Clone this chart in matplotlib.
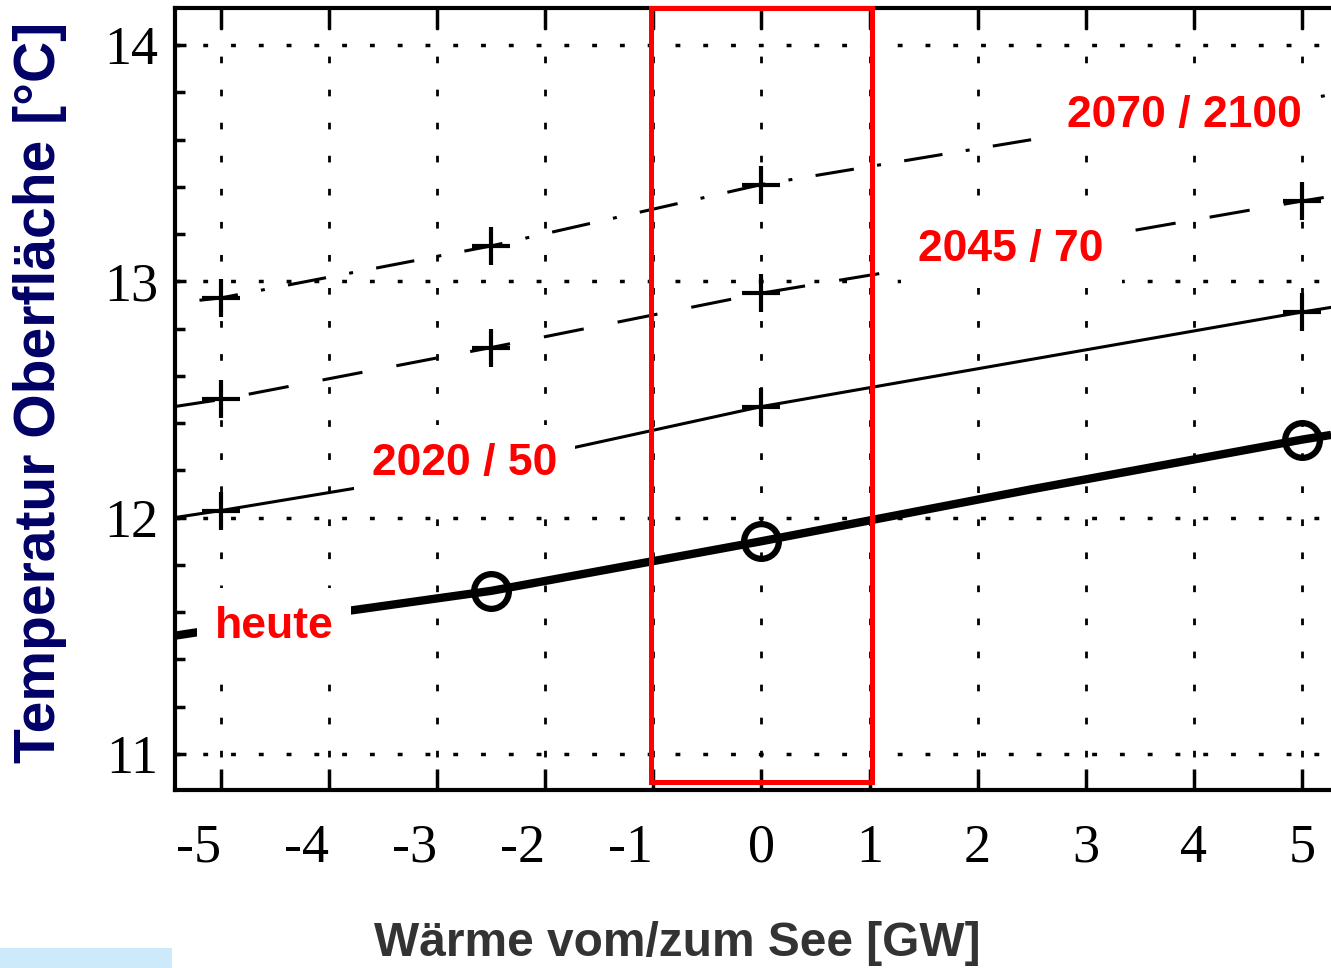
import matplotlib
matplotlib.use('Agg')
import matplotlib.pyplot as plt
from matplotlib.patches import Rectangle
from matplotlib.ticker import MultipleLocator

# values
x_pts = [-5.43, -5.0, -2.5, 0.0, 2.5, 5.0, 5.27]
t_heute = [11.50, 11.53, 11.69, 11.90, 12.12, 12.33, 12.35]
t_2020 = [12.00, 12.03, 12.22, 12.47, 12.67, 12.87, 12.89]
t_2045 = [12.47, 12.50, 12.72, 12.95, 13.14, 13.34, 13.36]
x_2070 = [-5.2, -5.0, -2.5, 0.0, 2.5, 5.0, 5.27]
t_2070 = [12.92, 12.93, 13.15, 13.41, 13.60, 13.77, 13.79]

mark_x = [-5.0, -2.5, 0.0, 5.0]
circle_x = [-2.5, 0.0, 5.0]

xticks = [-5, -4, -3, -2, -1, 0, 1, 2, 3, 4, 5]
yticks = [11, 12, 13, 14]

labels = ['heute', '2020 / 50', '2045 / 70', '2070 / 2100']
label_pos = [(-4.51, 11.54), (-2.75, 12.23), (2.31, 13.135), (3.91, 13.70)]

fig = plt.figure(figsize=(13.31, 9.68), dpi=100)
ax = fig.add_axes([0.1315, 0.1839, 0.8685, 0.8078])
ax.set_xlim(-5.426, 5.269)
ax.set_ylim(10.847, 14.157)

# grid
for xv in xticks:
    ax.axvline(xv, color='black', lw=2, dashes=(2.4, 9.5), zorder=1)
for yv in yticks:
    ax.axhline(yv, color='black', lw=2.5, dashes=(1.4, 6.6), zorder=1)


def lookup(xs, ys, x):
    # value at one of the read-off positions
    return ys[xs.index(x)]


# heute - thick line with circles
ax.plot(x_pts, t_heute, color='black', lw=6, zorder=3, solid_capstyle='butt')
ax.plot(circle_x, [lookup(x_pts, t_heute, v) for v in circle_x], 'o', ms=25,
        mfc='none', mec='black', mew=4.5, zorder=4)

# 2020 / 50 - thin solid
ax.plot(x_pts, t_2020, color='black', lw=2.2, zorder=3)
ax.plot(mark_x, [lookup(x_pts, t_2020, v) for v in mark_x], '+', ms=28,
        mec='black', mew=3, zorder=4)

# 2045 / 70 - dashed
ax.plot(x_pts, t_2045, color='black', lw=2.2, dashes=(13.3, 11.3), zorder=3)
ax.plot(mark_x, [lookup(x_pts, t_2045, v) for v in mark_x], '+', ms=28,
        mec='black', mew=3, zorder=4)

# 2070 / 2100 - dash dot
ax.plot(x_2070, t_2070, color='black', lw=2.2, dashes=(12.7, 7.7, 1.3, 7.7), zorder=3)
ax.plot(mark_x[:3], [lookup(x_2070, t_2070, v) for v in mark_x[:3]], '+', ms=28,
        mec='black', mew=3, zorder=4)

# red frame around -1..1 GW
ax.add_patch(Rectangle((-1.02, 10.88), 2.04, 14.157 - 10.88, fill=False,
                       edgecolor='#ff0000', lw=3.6, zorder=5, clip_on=False))

for txt, (lx, ly) in zip(labels, label_pos):
    ax.text(lx, ly, txt, color='#ff0000', fontsize=32, fontweight='bold',
            family='Liberation Sans', ha='center', va='center', zorder=6,
            bbox=dict(boxstyle='square,pad=0.4', fc='white', ec='none'))

# axes styling
for side in ['left', 'bottom', 'top']:
    ax.spines[side].set_linewidth(3)
ax.spines['right'].set_visible(False)

ax.set_xticks(xticks)
ax.set_yticks(yticks)
ax.yaxis.set_minor_locator(MultipleLocator(0.2))
ax.tick_params(axis='x', which='major', direction='in', length=15, width=2.5,
               top=True, bottom=True, pad=24)
ax.tick_params(axis='y', which='major', direction='in', length=8, width=2.5,
               left=True, right=False, pad=12)
ax.tick_params(axis='y', which='minor', direction='in', length=7, width=2.5,
               left=True, right=False)
ax.set_xticklabels([str(v) for v in xticks], family='Liberation Serif', fontsize=39)
ax.set_yticklabels([str(v) for v in yticks], family='Liberation Serif', fontsize=39)
for lab, v in zip(ax.get_xticklabels(), xticks):
    if v < 0:
        lab.set_ha('right')

fig.text(677 / 1331, 1 - 944 / 968, 'Wärme vom/zum See [GW]', color='#333333',
         fontsize=34.5, fontweight='bold', family='Liberation Sans',
         ha='center', va='center')
fig.text(40 / 1331, 1 - 392 / 968, 'Temperatur Oberfläche [°C]', color='#000066',
         fontsize=41, fontweight='bold', family='Liberation Sans',
         rotation=90, ha='center', va='center')

fig.patches.append(Rectangle((0, 0), 172 / 1331, 20 / 968, transform=fig.transFigure,
                             facecolor='#cdeafb', edgecolor='none'))

fig.savefig('out.png', dpi=100)
